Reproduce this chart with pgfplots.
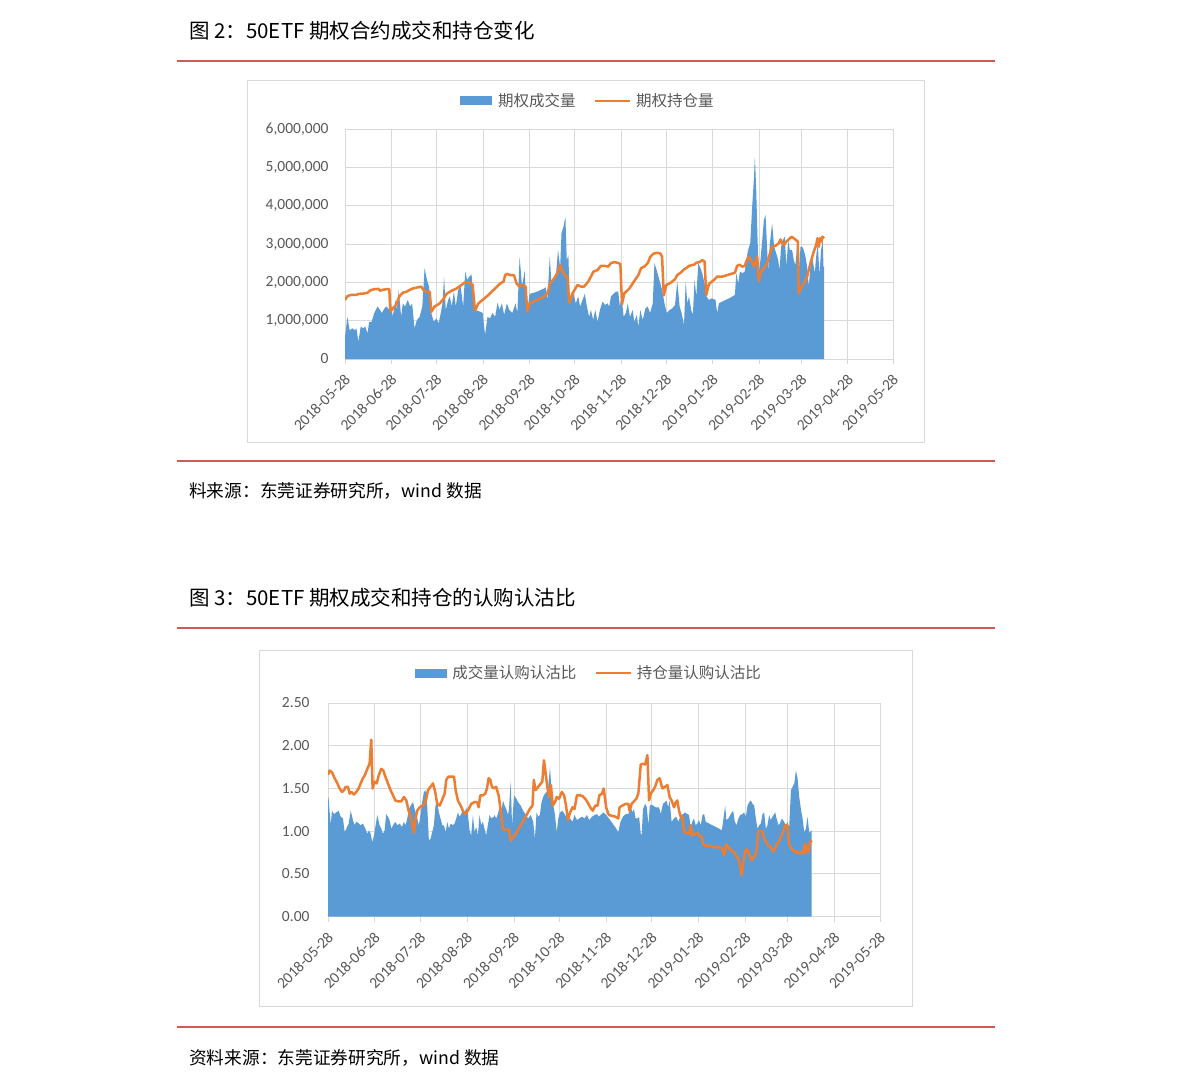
\documentclass[border=0pt]{standalone}
\usepackage{pgfplots}
\pgfplotsset{compat=1.18}
\usepackage{fontspec}
\setmainfont{Carlito}
\newfontfamily\cjk{Noto Sans CJK SC}
\definecolor{vol}{HTML}{5B9BD5}
\definecolor{oi}{HTML}{ED7D31}
\definecolor{gridc}{HTML}{D9D9D9}
\definecolor{txt}{HTML}{595959}
\definecolor{redl}{HTML}{D05A5A}
\pgfplotsset{mychart/.style={
  scale only axis, anchor=south west,
  xmin=0, xmax=365,
  xtick={0,31,61,92,123,153,184,214,245,276,304,335,365},
  xticklabels={2018-05-28,2018-06-28,2018-07-28,2018-08-28,2018-09-28,2018-10-28,2018-11-28,2018-12-28,2019-01-28,2019-02-28,2019-03-28,2019-04-28,2019-05-28},
  grid=major, grid style={gridc, line width=1pt},
  axis line style={gridc, line width=1pt},
  xtick pos=left, ytick pos=left,
  tick align=outside, major tick length=5pt,
  xtick style={gridc, line width=1pt},
  ytick style={draw=none},
  xticklabel style={rotate=45, anchor=east, font=\fontsize{15.5}{16}\selectfont, text=txt, yshift=-11pt, xshift=-4pt},
  yticklabel style={font=\fontsize{15.5}{16}\selectfont, text=txt},
  legend columns=2,
  legend style={draw=none, fill=none, font=\cjk\fontsize{15.5}{16}\selectfont, text=txt,
    /tikz/every even column/.append style={column sep=16pt}},
}}
\begin{document}
\begin{tikzpicture}[x=1pt,y=-1pt]
\useasboundingbox (0,0) rectangle (1191,1088);
\fill[white] (0,0) rectangle (1191,1088);
% titles and rules
\node[anchor=west, inner sep=0, font=\cjk\fontsize{20.5}{22}\selectfont] at (189,31) {图 2：50ETF 期权合约成交和持仓变化};
\draw[redl, line width=1.2pt] (177,61) -- (995,61);
\draw[redl, line width=1.2pt] (177,461) -- (995,461);
\node[anchor=west, inner sep=0, font=\cjk\fontsize{17.7}{19}\selectfont] at (189,491) {料来源：东莞证券研究所，wind 数据};
\node[anchor=west, inner sep=0, font=\cjk\fontsize{20.5}{22}\selectfont] at (189,598) {图 3：50ETF 期权成交和持仓的认购认沽比};
\draw[redl, line width=1.2pt] (177,628) -- (995,628);
\draw[redl, line width=1.2pt] (177,1027) -- (995,1027);
\node[anchor=west, inner sep=0, font=\cjk\fontsize{17.7}{19}\selectfont] at (189,1058) {资料来源：东莞证券研究所，wind 数据};
\draw[gridc, line width=1pt] (247,80) rectangle (924,442);
\draw[gridc, line width=1pt] (259,650) rectangle (912,1006);

% ---------- chart 1 ----------
\begin{axis}[mychart, at={(345pt,-359pt)}, width=548pt, height=230pt,
  ymin=0, ymax=6, ytick={0,1,2,3,4,5,6},
  yticklabels={0,{1,000,000},{2,000,000},{3,000,000},{4,000,000},{5,000,000},{6,000,000}},
  yticklabel style={xshift=-8pt},
  legend style={at={(0.443,1.122)}, anchor=center}]
\addplot[fill=vol, draw=none, legend image code/.code={\fill[vol] (0pt,-4.5pt) rectangle (32pt,4.5pt); \path (36pt,0pt);}] table {
0 0.58
1.6 1.1
3.1 0.75
4.9 0.8
6.7 0.75
7.6 0.8
8.9 0.45
10.5 0.85
12.1 0.8
13.4 0.85
15.0 0.67
16.1 0.97
17.7 0.97
19.5 1.2
21.7 1.37
23.3 1.28
24.6 1.2
26.2 1.32
27.7 1.37
29.5 1.28
30.6 1.45
31.8 1.1
33.6 1.54
34.5 1.28
35.8 1.8
37.4 1.1
38.5 1.45
40.0 1.37
41.8 1.54
43.4 1.37
44.7 1.45
46.3 0.8
47.9 1.02
49.7 1.1
51.5 1.37
53.0 2.37
54.6 2.06
55.9 1.9
57.5 1.2
59.1 0.97
60.9 1.06
62.4 0.93
63.8 1.2
64.9 1.45
66.0 2.15
67.1 1.28
68.7 1.54
69.8 1.63
71.1 1.37
72.5 1.76
73.8 1.37
75.4 1.8
77.0 1.9
78.7 1.37
80.1 2.28
81.4 2.06
82.8 2.15
84.3 2.2
85.5 1.63
86.6 1.28
88.1 1.26
90.4 1.23
91.7 1.2
93.3 0.63
94.9 1.1
96.6 1.06
98.2 1.2
100.0 1.1
101.6 1.47
102.9 1.28
104.5 1.45
106.0 1.15
107.8 1.45
109.4 1.28
111.4 1.2
113.6 1.45
114.8 1.2
116.3 2.67
117.9 1.9
119.7 2.3
120.8 1.3
121.9 1.4
123.0 1.7
125.9 1.73
128.1 1.76
130.3 1.8
132.6 1.84
133.7 1.87
134.8 1.54
136.4 2.67
137.5 1.97
138.8 2.06
140.4 2.15
141.9 2.84
143.3 2.4
144.2 3.28
145.5 3.45
146.8 3.71
147.7 2.58
148.8 2.71
149.7 1.45
150.8 1.54
152.2 1.7
153.7 1.45
155.3 1.63
156.6 1.37
158.2 1.54
159.7 1.7
161.1 1.37
162.6 1.1
163.8 1.28
165.3 1.02
166.7 1.28
168.2 0.97
169.8 1.28
171.6 1.5
173.1 1.41
174.9 1.45
176.0 1.37
177.1 1.63
178.9 1.7
180.5 1.76
182.0 1.76
183.1 1.37
184.2 1.63
185.6 1.1
187.1 1.2
188.3 1.45
189.8 1.1
191.6 1.28
192.7 0.97
194.3 1.15
195.4 0.84
196.7 1.28
198.3 1.02
200.1 1.32
201.6 1.37
203.2 1.2
205.0 1.45
206.1 2.5
207.6 2.32
209.4 2.06
211.2 1.8
212.8 1.45
214.3 1.2
216.2 1.28
218.0 1.32
219.8 1.41
221.3 2.02
222.9 1.37
224.2 1.2
225.8 0.89
226.9 2.02
228.0 1.45
229.1 1.63
230.6 1.28
231.7 1.15
232.8 2.06
234.0 1.63
235.3 2.5
236.8 2.37
237.9 2.24
239.5 1.97
240.8 1.63
242.4 1.54
244.2 1.58
245.7 1.56
246.8 1.54
247.9 1.2
249.0 1.45
251.3 1.5
253.5 1.54
255.7 1.58
257.9 1.63
259.7 1.67
260.6 2.24
261.9 1.97
263.0 2.28
264.6 2.24
266.3 2.28
267.2 2.58
268.5 2.84
269.9 3.02
271.2 3.97
272.3 4.67
273.0 5.28
273.9 4.41
274.8 3.1
275.6 2.24
276.7 2.58
277.9 3.1
279.0 3.63
280.1 3.76
281.2 2.84
281.8 2.32
283.0 3.02
284.5 3.54
285.8 2.93
287.2 2.76
288.5 2.58
289.4 2.32
290.5 2.93
291.6 3.1
292.9 3.19
294.0 2.41
295.2 3.1
296.3 2.84
297.8 2.84
298.9 2.58
300.0 2.45
301.1 2.93
302.2 2.24
303.4 2.93
304.5 2.93
305.6 2.84
306.7 2.67
307.8 2.41
308.9 1.89
310.0 2.41
311.1 2.67
312.2 2.41
312.9 2.24
313.8 2.67
314.9 3.02
316.0 2.19
317.1 2.84
318.2 3.1
318.7 2.41
319.1 2.41
} \closedcycle;
\addlegendentry{期权成交量}
\addplot[oi, line width=2.5pt, line join=round, mark=none, legend image code/.code={\draw[oi, line width=2.5pt] (0pt,0pt) -- (35pt,0pt); \path (38pt,0pt);}] table {
0 1.54
1.6 1.64
3.8 1.67
7.2 1.67
9.4 1.7
12.8 1.71
15.0 1.73
17.2 1.8
19.5 1.82
22.4 1.83
23.3 1.78
24.6 1.8
27.3 1.82
29.5 1.82
30.2 1.23
31.8 1.32
34.0 1.41
36.2 1.63
38.5 1.73
40.7 1.75
43.0 1.8
45.2 1.84
48.5 1.87
50.8 1.89
52.3 1.8
54.1 1.76
56.4 1.76
57.5 1.23
59.7 1.37
63.1 1.45
65.8 1.58
67.6 1.7
70.9 1.78
74.3 1.84
77.6 1.93
79.9 2.0
83.2 1.99
85.0 1.93
86.6 1.26
88.8 1.45
92.2 1.56
95.5 1.67
97.8 1.76
100.0 1.84
103.4 1.97
105.6 2.02
106.7 2.19
107.8 2.22
110.1 2.19
112.5 2.19
114.3 1.97
115.9 1.9
118.1 1.93
120.3 1.89
121.4 1.23
123.0 1.45
125.9 1.5
129.2 1.56
132.6 1.63
134.8 1.71
136.6 1.97
139.3 2.1
141.5 2.25
143.3 2.45
144.8 2.28
147.1 2.15
148.2 2.15
149.3 1.47
151.5 1.71
154.8 1.93
157.1 1.89
159.3 1.89
162.0 2.02
163.8 2.15
165.5 2.28
168.2 2.32
170.4 2.43
173.1 2.43
175.3 2.41
177.1 2.5
179.3 2.53
181.6 2.51
183.4 2.48
184.5 1.43
186.0 1.71
189.4 1.84
191.6 1.97
193.8 2.1
195.4 2.19
197.2 2.37
199.4 2.41
201.6 2.5
203.4 2.67
205.6 2.75
208.3 2.77
210.1 2.75
211.2 2.67
212.3 1.66
214.0 1.93
216.9 1.99
219.8 2.08
221.3 2.19
223.5 2.25
225.8 2.34
227.3 2.37
229.1 2.43
232.4 2.46
234.0 2.51
236.2 2.53
238.0 2.58
239.5 2.54
240.6 1.67
242.4 1.96
245.7 2.06
247.9 2.15
251.3 2.15
254.6 2.19
257.9 2.23
259.7 2.25
261.2 2.43
262.8 2.46
264.6 2.41
266.3 2.43
267.2 2.54
269.0 2.67
270.8 2.56
272.3 2.41
273.4 2.54
274.5 2.67
275.6 2.02
276.7 2.24
279.0 2.37
281.2 2.5
282.7 2.71
284.5 2.93
286.7 2.95
288.9 3.02
290.1 3.12
291.2 3.02
292.3 2.97
293.8 3.06
295.6 3.12
297.4 3.19
298.9 3.15
300.5 3.1
301.6 3.06
302.2 1.71
303.4 1.84
305.6 1.97
307.8 2.15
310.0 2.5
312.2 2.8
313.8 2.97
314.7 3.15
315.6 2.93
316.4 3.15
317.3 3.06
318.0 3.19
319.1 3.15
};
\addlegendentry{期权持仓量}
\end{axis}

% ---------- chart 2 ----------
\begin{axis}[mychart, at={(328pt,-916.7pt)}, width=552pt, height=213.7pt,
  ymin=0, ymax=2.5, ytick={0,0.5,1,1.5,2,2.5},
  yticklabels={0.00,0.50,1.00,1.50,2.00,2.50},
  yticklabel style={xshift=-10pt},
  legend style={at={(0.473,1.140)}, anchor=center}]
\addplot[fill=vol, draw=none, legend image code/.code={\fill[vol] (0pt,-4.5pt) rectangle (32pt,4.5pt); \path (35pt,0pt);}] table {
0 1.40
0.4 1.38
1.8 1.07
2.6 1.24
4.0 1.2
5.5 1.22
7.0 1.24
8.4 1.17
9.9 1.15
11.0 0.99
12.1 1.03
13.7 1.09
15.0 1.24
16.5 1.13
17.6 1.07
18.7 1.11
19.8 1.1
21.6 1.07
23.1 1.09
24.7 1.03
26.0 0.97
27.1 1.01
28.2 0.97
29.3 0.87
30.4 0.95
31.5 1.07
32.6 1.19
34.1 1.07
35.2 1.03
36.3 0.97
37.4 1.01
38.5 1.2
39.6 1.17
40.7 1.13
41.9 1.03
43.0 1.07
44.5 1.11
45.8 1.07
47.4 1.09
48.9 1.05
50.2 1.11
51.3 1.07
52.4 1.15
53.5 1.26
54.6 1.3
56.2 1.34
57.3 1.26
58.8 1.17
60.1 1.07
61.2 1.2
62.3 1.34
63.4 1.46
64.5 1.48
65.6 1.3
66.7 0.89
67.8 0.91
68.9 0.99
70.0 1.07
71.1 1.3
72.2 1.36
73.3 1.22
74.4 1.15
75.6 1.07
76.7 1.07
77.8 0.99
78.9 1.11
80.0 1.03
81.1 1.09
82.6 1.07
83.7 1.09
84.8 1.15
85.9 1.22
87.0 1.17
88.1 1.2
89.2 1.26
90.3 1.2
91.4 1.28
92.5 1.2
93.6 1.01
94.7 0.95
95.8 1.19
96.9 0.99
98.0 1.05
99.1 0.95
100.2 1.19
101.3 1.07
102.4 1.11
103.5 1.03
104.6 0.95
105.7 1.07
106.8 1.19
107.9 1.15
109.7 1.17
110.1 1.19
111.2 1.15
112.3 1.2
113.4 1.28
114.6 1.22
115.7 1.36
116.8 1.3
117.9 1.26
119.0 1.19
119.7 1.26
120.8 1.58
121.7 1.07
123.0 1.42
124.6 1.38
125.7 1.34
127.4 1.3
129.0 1.24
130.6 1.2
132.3 1.15
134.1 1.19
135.7 1.11
136.8 0.91
137.9 1.22
139.0 1.17
140.1 1.19
141.2 1.34
142.3 1.4
143.4 1.44
144.6 1.46
145.7 1.54
146.8 1.75
147.9 1.44
149.0 1.3
150.1 1.19
151.2 0.99
152.3 1.15
153.4 1.22
155.0 1.24
156.8 1.19
158.6 1.13
160.1 1.15
161.7 1.11
163.0 1.19
164.6 1.13
166.1 1.15
167.9 1.17
169.7 1.15
171.2 1.19
172.8 1.13
174.6 1.17
176.3 1.19
177.9 1.2
179.0 1.17
180.8 1.2
182.3 1.22
183.9 1.19
185.7 1.15
187.4 1.11
189.0 1.07
190.6 1.03
191.9 0.99
193.4 1.11
195.0 1.17
196.8 1.2
198.6 1.2
200.1 1.3
201.2 1.22
202.3 1.26
203.4 1.15
204.6 1.15
205.7 1.17
206.8 0.97
207.4 0.95
208.3 1.26
209.7 1.32
210.8 1.28
211.9 1.07
212.8 1.3
214.1 1.31
216.6 1.28
218.9 1.28
220.0 1.2
221.5 1.32
222.8 1.34
223.7 1.36
225.0 1.28
225.9 1.36
227.2 1.11
228.8 1.15
230.3 1.17
231.7 1.11
233.2 1.19
234.8 1.2
236.1 1.22
237.6 1.2
238.7 1.19
239.8 1.05
240.9 1.11
242.0 1.15
243.1 1.07
244.2 1.09
245.3 1.13
246.5 1.07
247.6 1.19
248.7 1.2
249.8 1.11
252.0 1.09
254.2 1.07
256.4 1.05
258.6 1.03
260.4 1.01
261.2 1.11
262.6 1.3
263.4 1.13
264.8 1.15
266.3 1.2
267.9 1.24
269.0 1.11
270.1 1.07
271.4 1.15
272.5 1.19
274.0 1.2
275.1 1.22
276.3 1.17
277.4 1.3
278.5 1.34
279.6 1.36
280.7 1.32
281.8 1.3
282.9 1.15
284.0 1.03
285.1 1.07
286.2 1.09
287.3 1.2
288.4 1.22
289.5 1.03
290.6 1.07
291.7 1.19
292.8 1.13
293.9 1.17
295.0 1.2
295.7 1.22
296.6 1.15
297.9 1.07
298.8 1.09
300.1 1.15
301.6 1.11
302.7 1.07
303.8 1.11
304.9 1.03
306.1 1.48
307.2 1.52
308.3 1.56
309.4 1.71
310.5 1.62
311.6 1.4
312.7 1.26
313.8 1.15
314.9 0.99
316.0 1.03
317.1 1.17
318.2 0.98
319.7 1.01
} \closedcycle;
\addlegendentry{成交量认购认沽比}
\addplot[oi, line width=2.5pt, line join=round, mark=none, legend image code/.code={\draw[oi, line width=2.5pt] (0pt,0pt) -- (35pt,0pt); \path (38pt,0pt);}] table {
0 1.66
1.1 1.71
2.6 1.69
4.4 1.62
6.2 1.56
7.7 1.5
9.3 1.46
10.6 1.48
11.7 1.52
13.2 1.52
14.3 1.44
15.4 1.46
17.2 1.43
18.7 1.46
20.3 1.5
21.6 1.56
23.1 1.62
24.2 1.65
26.0 1.73
27.5 1.79
28.6 2.07
29.5 1.5
30.8 1.58
32.2 1.56
33.5 1.65
35.2 1.73
36.6 1.71
37.9 1.64
39.6 1.56
41.4 1.48
43.0 1.42
44.5 1.36
46.3 1.35
48.5 1.35
50.2 1.4
51.8 1.36
53.3 1.24
54.6 1.17
55.7 1.09
56.8 0.98
57.9 1.15
59.0 1.24
60.6 1.28
62.3 1.3
63.9 1.32
65.0 1.38
66.1 1.48
67.8 1.52
69.4 1.56
70.9 1.46
72.2 1.32
73.8 1.3
75.3 1.36
77.1 1.44
78.2 1.6
79.7 1.64
81.5 1.64
83.3 1.64
84.4 1.48
85.9 1.36
87.7 1.3
89.2 1.24
90.7 1.2
92.5 1.24
94.7 1.32
96.9 1.34
98.7 1.34
99.6 1.28
100.7 1.42
102.4 1.42
104.0 1.44
105.1 1.5
106.2 1.62
107.3 1.6
108.4 1.52
109.7 1.5
111.2 1.52
112.8 1.42
114.1 1.26
115.7 1.02
117.9 1.02
119.7 1.02
120.8 0.89
123.4 0.95
126.8 1.05
130.1 1.15
133.4 1.26
135.2 1.3
136.1 1.6
137.2 1.48
139.0 1.52
140.8 1.56
141.7 1.58
142.8 1.83
143.9 1.68
145.0 1.52
146.1 1.4
147.4 1.54
148.6 1.3
150.1 1.34
151.2 1.4
152.8 1.38
154.6 1.46
156.1 1.42
157.4 1.3
158.6 1.13
160.1 1.22
161.7 1.28
163.0 1.26
164.6 1.42
166.8 1.42
168.3 1.41
170.1 1.38
171.9 1.33
173.4 1.28
175.0 1.24
176.8 1.3
178.3 1.3
179.4 1.42
181.2 1.44
182.3 1.5
183.9 1.28
185.7 1.19
187.9 1.18
190.1 1.17
191.9 1.15
192.8 1.28
194.6 1.3
196.8 1.32
198.6 1.32
199.4 1.24
200.8 1.32
202.3 1.35
203.9 1.38
205.2 1.44
206.8 1.78
208.3 1.79
209.7 1.78
211.2 1.89
212.3 1.36
213.4 1.44
215.0 1.48
216.3 1.52
217.8 1.6
219.3 1.62
221.1 1.5
222.8 1.52
224.4 1.54
225.9 1.4
227.2 1.36
228.8 1.28
229.9 1.34
231.0 1.36
232.1 1.24
233.2 1.17
234.3 1.17
235.4 0.99
237.0 0.98
238.7 0.97
239.8 1.07
240.9 0.95
242.7 0.97
244.2 0.98
245.3 0.95
247.1 0.94
248.0 0.85
249.8 0.83
253.1 0.83
256.4 0.81
259.7 0.81
260.8 0.8
261.5 0.72
262.6 0.76
263.4 0.85
264.8 0.81
267.0 0.77
268.5 0.76
270.1 0.7
271.4 0.68
272.5 0.6
273.6 0.48
274.7 0.64
275.8 0.77
276.9 0.79
278.0 0.76
279.1 0.7
280.2 0.66
281.8 0.7
283.3 0.76
284.4 1.0
285.7 1.0
287.3 1.0
288.4 0.91
289.9 0.87
291.3 0.83
292.8 0.81
294.4 0.76
295.5 0.79
296.6 0.85
297.9 0.87
299.4 0.93
301.0 1.0
302.3 1.07
303.8 1.07
304.9 0.85
306.7 0.79
308.3 0.76
309.4 0.77
310.5 0.74
311.6 0.76
313.1 0.74
314.2 0.76
315.3 0.85
316.0 0.74
316.9 0.83
317.8 0.76
318.6 0.87
320.0 0.89
};
\addlegendentry{持仓量认购认沽比}
\end{axis}
\end{tikzpicture}
\end{document}
